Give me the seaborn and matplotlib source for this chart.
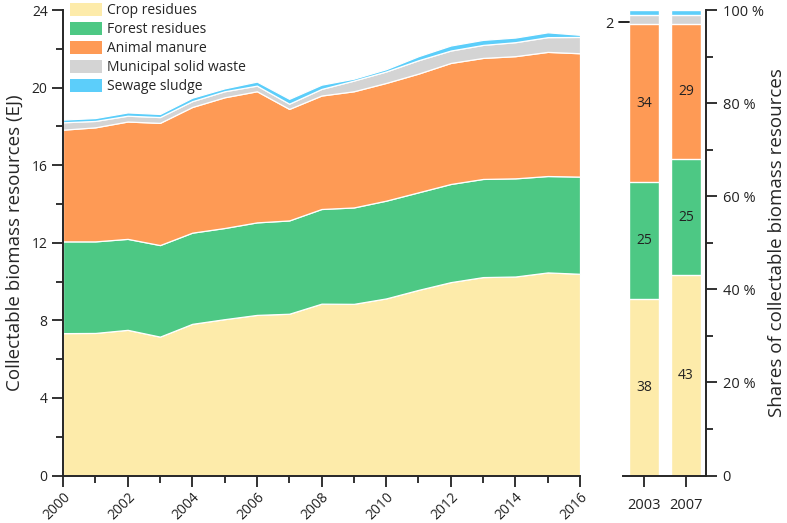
import numpy as np
import pandas as pd
import matplotlib
matplotlib.use("Agg")
import matplotlib.pyplot as plt
from matplotlib.lines import Line2D
import seaborn as sns

# ---------------- data ----------------
years = list(range(2000, 2017))
crop = [7.34, 7.35, 7.51, 7.16, 7.82, 8.06, 8.28, 8.34, 8.86, 8.85, 9.13, 9.57, 9.97, 10.23, 10.26, 10.47, 10.40]
forest = [4.73, 4.72, 4.69, 4.72, 4.70, 4.70, 4.77, 4.81, 4.88, 4.97, 5.04, 5.03, 5.06, 5.06, 5.06, 4.97, 5.01]
manure = [5.76, 5.88, 6.05, 6.30, 6.48, 6.74, 6.76, 5.75, 5.85, 5.99, 6.07, 6.12, 6.24, 6.24, 6.30, 6.40, 6.36]
msw = [0.38, 0.33, 0.30, 0.30, 0.30, 0.31, 0.29, 0.27, 0.34, 0.55, 0.59, 0.69, 0.64, 0.67, 0.72, 0.76, 0.84]
sludge = [0.14, 0.15, 0.17, 0.16, 0.18, 0.15, 0.21, 0.25, 0.22, 0.10, 0.12, 0.21, 0.26, 0.26, 0.24, 0.25, 0.11]

categories = ["Crop residues", "Forest residues", "Animal manure", "Municipal solid waste", "Sewage sludge"]
colors = ["#FDEBAA", "#4DC884", "#FE9A55", "#D4D4D4", "#5CCEFA"]

bar_years = ["2003", "2007"]
crop_share = [38, 43]
forest_share = [25, 25]
manure_share = [34, 29]
msw_share = [2, 2]
sludge_share = [1, 1]

# ---------------- style ----------------
sns.set_style("ticks")
plt.rcParams["font.family"] = ["Open Sans", "DejaVu Sans"]
plt.rcParams["axes.linewidth"] = 1.4
plt.rcParams["xtick.major.width"] = 1.3
plt.rcParams["ytick.major.width"] = 1.3
plt.rcParams["xtick.minor.width"] = 1.3
plt.rcParams["ytick.minor.width"] = 1.3
plt.rcParams["xtick.color"] = "#222222"
plt.rcParams["ytick.color"] = "#222222"

fig = plt.figure(figsize=(7.87, 5.23), dpi=100)
W, H = 787, 523
ax = fig.add_axes([63 / W, (H - 475.5) / H, 517 / W, 465.5 / H])
ax2 = fig.add_axes([623 / W, (H - 475.5) / H, 83 / W, 465.5 / H])

# ---------------- stacked area ----------------
ax.stackplot(years, crop, forest, manure, msw, sludge, colors=colors,
             labels=categories, edgecolor="white", linewidth=0.9)
ax.set_xlim(2000, 2016)
ax.set_ylim(0, 24)
ax.set_xticks(range(2000, 2017, 2))
ax.set_xticks(range(2001, 2017, 2), minor=True)
ax.set_yticks(range(0, 25, 4))
ax.set_yticks(range(2, 24, 4), minor=True)
ax.tick_params(axis="y", which="major", length=8, labelsize=10, pad=3)
ax.tick_params(axis="x", which="major", length=8, labelsize=10, pad=2)
ax.tick_params(axis="both", which="minor", length=5)
for lab in ax.get_xticklabels():
    lab.set_rotation(45)
    lab.set_ha("right")
    lab.set_rotation_mode("anchor")
ax.set_ylabel("Collectable biomass resources (EJ)", fontsize=13.5, labelpad=6)
sns.despine(ax=ax)

leg = ax.legend(loc="upper left", bbox_to_anchor=(70 / W, (H - 3) / H), bbox_transform=fig.transFigure,
                frameon=False, fontsize=10, handlelength=2.3, handleheight=1.05,
                labelspacing=0.28, handletextpad=0.35, borderaxespad=0, borderpad=0)
for h in leg.legend_handles:
    h.set_edgecolor("none")

# ---------------- stacked bars (seaborn) ----------------
parts = [crop_share, forest_share, manure_share, msw_share, sludge_share]
cum = np.cumsum(np.array(parts, dtype=float), axis=0)
for i in range(len(parts) - 1, -1, -1):
    df = pd.DataFrame({"year": bar_years, "value": cum[i]})
    sns.barplot(data=df, x="year", y="value", ax=ax2, color=colors[i], saturation=1,
                width=0.714, edgecolor="white", linewidth=1.0)

for j in range(len(bar_years)):
    bottoms = np.concatenate([[0], cum[:, j]])
    for i in range(3):
        ax2.text(j, (bottoms[i] + bottoms[i + 1]) / 2, str(parts[i][j]),
                 ha="center", va="center", fontsize=10, color="#222222")

ax2.set_xlim(-0.5, 1.48)
ax2.set_ylim(0, 100)

# leader line for the small "2" label (blended: x in axes fraction, y in data)
ann_y = cum[2][0] + 0.35
trans = ax2.get_yaxis_transform()
ax2.text(-0.115, ann_y - 0.4, str(msw_share[0]), transform=trans, ha="right", va="center",
         fontsize=10.5, color="#222222", clip_on=False)
leader = Line2D([-0.05, 0.07], [ann_y, ann_y], transform=trans, color="#111111",
                lw=1.3, clip_on=False, zorder=10)
ax2.add_artist(leader)

ax2.yaxis.tick_right()
ax2.yaxis.set_label_position("right")
ax2.set_yticks(range(0, 101, 20))
ax2.set_yticklabels(["0"] + [f"{v} %" for v in range(20, 101, 20)])
ax2.set_yticks(range(10, 100, 20), minor=True)
ax2.tick_params(axis="y", which="major", length=8, labelsize=10.5, pad=4)
ax2.tick_params(axis="x", which="major", length=8, labelsize=10.5, pad=8)
ax2.tick_params(axis="y", which="minor", length=5)
ax2.set_xlabel("")
ax2.set_ylabel("Shares of collectable biomass resources", fontsize=13.5, labelpad=3)
ax2.spines["left"].set_visible(False)
ax2.spines["top"].set_visible(False)
ax2.spines["right"].set_visible(True)

fig.savefig("out.png", dpi=100)
